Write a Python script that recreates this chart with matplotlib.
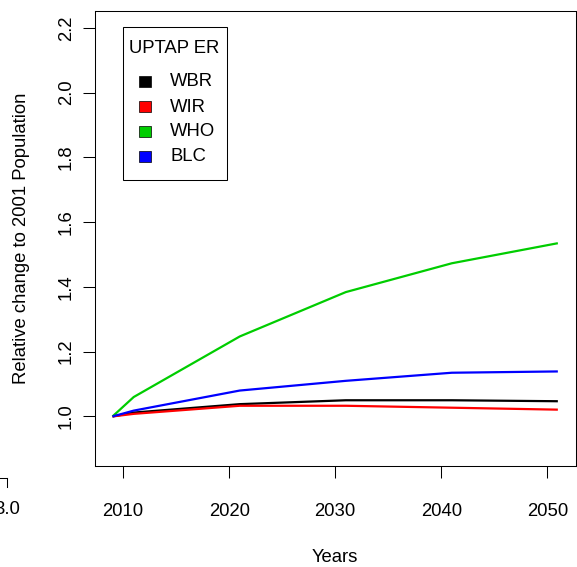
import matplotlib
matplotlib.use("Agg")
import matplotlib.pyplot as plt
from matplotlib.patches import Rectangle

plt.rcParams["font.family"] = ["Liberation Sans", "DejaVu Sans"]

# ── data: population relative to 2001 under each scenario ────────────────────
years = [2009, 2011, 2021, 2031, 2041, 2051]
wbr = [1.000, 1.012, 1.038, 1.050, 1.050, 1.047]
wir = [1.000, 1.008, 1.033, 1.033, 1.027, 1.021]
who = [1.000, 1.060, 1.247, 1.384, 1.473, 1.535]
blc = [1.000, 1.018, 1.080, 1.110, 1.135, 1.139]

series = [("WBR", wbr, "#000000"),
          ("WIR", wir, "#ff0000"),
          ("WHO", who, "#00cd00"),
          ("BLC", blc, "#0000ff")]

x_ticks = [2010, 2020, 2030, 2040, 2050]
y_ticks = [1.0, 1.2, 1.4, 1.6, 1.8, 2.0, 2.2]

FS = 13.3
W, H = 577, 567

fig = plt.figure(figsize=(W / 100, H / 100), dpi=100)
ax = fig.add_axes([0.1641, 0.1787, 0.9977 - 0.1641, 0.9806 - 0.1787])

for name, vals, col in series:
    ax.plot(years, vals, color=col, lw=1.6, solid_capstyle="butt")

# R-style 4% padding around the data range
ax.set_xlim(2009 - 0.04 * 42, 2051 + 0.04 * 42)
ax.set_ylim(0.9 - 0.04 * 1.3, 2.2 + 0.04 * 1.3)

ax.set_xticks(x_ticks)
ax.set_xticklabels([str(v) for v in x_ticks], fontsize=FS)
ax.set_yticks(y_ticks)
ax.set_yticklabels([f"{v:.1f}" for v in y_ticks], fontsize=FS,
                   rotation=90, va="center")
ax.tick_params(axis="x", length=8.6, width=0.75, pad=18.5)
ax.tick_params(axis="y", length=8.6, width=0.75, pad=5.5)
for sp in ax.spines.values():
    sp.set_linewidth(0.75)

ax.set_xlabel("Years", fontsize=FS, va="center")
ax.xaxis.set_label_coords(0.5, -0.203)
ax.set_ylabel("Relative change to 2001 Population", fontsize=FS, va="center")
ax.yaxis.set_label_coords(-0.153, 0.5)


def px(x, y):
    # figure pixel (from top-left) -> figure fraction
    return x / W, 1 - y / H


# legend box, drawn by hand in figure pixels
x0, y0 = px(123.3, 180)
x1, y1 = px(227.3, 26.7)
fig.patches.append(Rectangle((x0, y0), x1 - x0, y1 - y0, transform=fig.transFigure,
                             facecolor="white", edgecolor="black", lw=0.75,
                             zorder=5))
fig.text(*px(129, 48.5), "UPTAP ER", fontsize=FS, ha="left", va="center",
         zorder=6)
for i, (name, _, col) in enumerate(series):
    cy = 81.5 + 25 * i
    sx, sy = px(139, cy + 5.5)
    fig.patches.append(Rectangle((sx, sy), 12 / W, 11 / H,
                                 transform=fig.transFigure, facecolor=col,
                                 edgecolor="black", lw=0.5, zorder=6))
    fig.text(*px(170, cy + 0.5), name, fontsize=FS, ha="left", va="center",
             zorder=6)

# neighbouring panel's edge, cut at the left border
fig.lines.append(plt.Line2D([0, 7 / W], [1 - 477.7 / H] * 2,
                            transform=fig.transFigure, color="black", lw=0.75))
fig.lines.append(plt.Line2D([7 / W] * 2, [1 - 477.7 / H, 1 - 487 / H],
                            transform=fig.transFigure, color="black", lw=0.75))
fig.text(*px(7, 509), "3.0", fontsize=FS, ha="center", va="center")

fig.savefig("out.png", dpi=100)
